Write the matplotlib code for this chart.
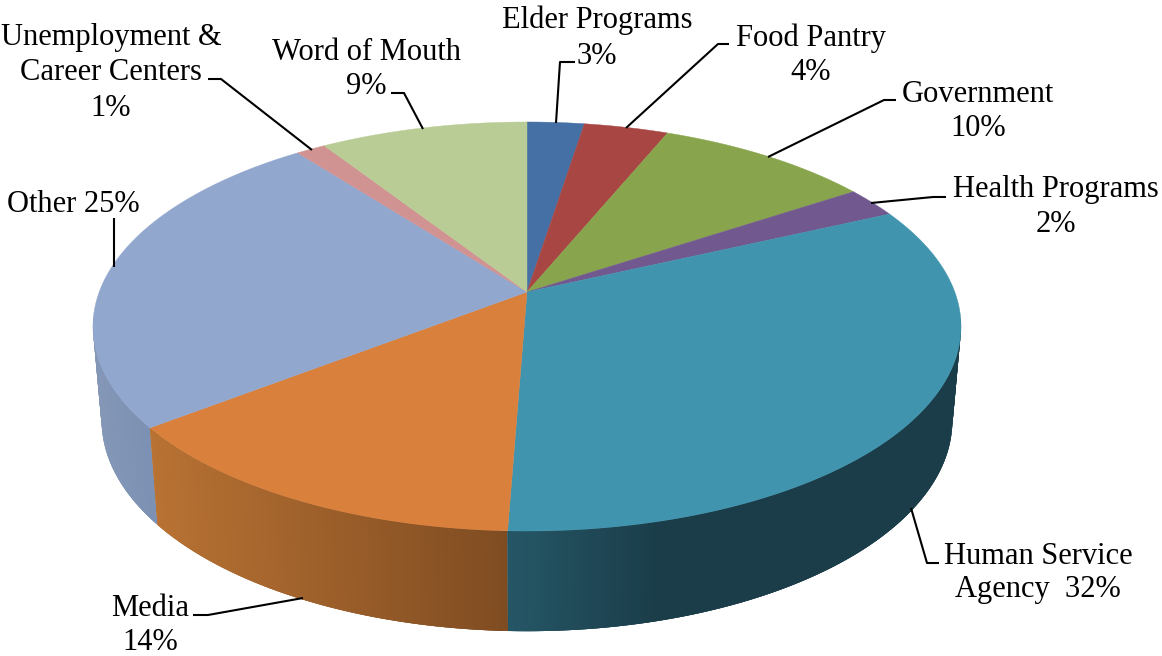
import numpy as np
import matplotlib
matplotlib.use("Agg")
import matplotlib.pyplot as plt

categories = ["Elder Programs", "Food Pantry", "Government", "Health Programs",
              "Human Service Agency", "Media", "Other",
              "Unemployment & Career Centers", "Word of Mouth"]
shares = [2.5, 3.7, 9.5, 2.4, 32.5, 13.9, 25.1, 1.3, 9.1]
top_colors = ["#4470A5", "#A84644", "#88A44C", "#71588F", "#4094AD",
              "#D8803C", "#92A7CE", "#D19392", "#B9CC95"]
# wall shading: colour stops along the horizontal position
wall_stops = {4: ([509, 650, 960], ["#255665", "#1B3D4A", "#1B3D4A"]),
              5: ([150, 510], ["#B87233", "#7E4B21"]),
              6: ([95, 160], ["#8497B7", "#7A8FB2"])}

# projection of the pie disc
CX, CY, A, B, P = 527.0, 292.0, 427.8, 198.7, -0.1687
S_X, S_Y, Y_LOW = 0.98, 1.03, 385.0
WALL_FROM, WALL_TO = np.radians(97), np.radians(263)


def top_rim(theta):
    u, v = np.sin(theta), -np.cos(theta)
    w = 1 + P * v
    return CX + A * u / w, CY + B * v / w


def low_rim(theta):
    u, v = np.sin(theta), -np.cos(theta)
    w = 1 + P * v
    return CX + S_X * A * u / w, Y_LOW + S_Y * B * v / w


def mix(c1, c2, t):
    a, b = np.array(matplotlib.colors.to_rgb(c1)), np.array(matplotlib.colors.to_rgb(c2))
    return tuple(a + (b - a) * t)


def shade(stops, x):
    xs, cs = stops
    x = min(max(x, xs[0]), xs[-1])
    i = min(np.searchsorted(xs, x, side="right") - 1, len(xs) - 2)
    return mix(cs[i], cs[i + 1], (x - xs[i]) / (xs[i + 1] - xs[i]))


fig = plt.figure(figsize=(11.62, 6.56), dpi=100, facecolor="white")
ax = fig.add_axes([0, 0, 1, 1])
ax.set_xlim(0, 1162)
ax.set_ylim(656, 0)
ax.axis("off")

edges = np.concatenate([[0], np.cumsum(shares)]) / np.sum(shares) * 2 * np.pi

# side walls: each strip overlaps the next, so no seams show
for i, stops in wall_stops.items():
    lo, hi = max(edges[i], WALL_FROM), min(edges[i + 1], WALL_TO)
    grid = np.linspace(lo, hi, 140)
    for k in range(len(grid) - 1):
        t = np.linspace(grid[k], grid[min(k + 3, len(grid) - 1)], 4)
        x0, y0 = top_rim(t)
        x1, y1 = low_rim(t[::-1])
        c = shade(stops, float(np.mean(x0)))
        ax.fill(np.r_[x0, x1], np.r_[y0, y1], color=c, lw=0, zorder=1 + k * 1e-4)

# top face
for i, color in enumerate(top_colors):
    grid = np.linspace(edges[i], edges[i + 1], 120)
    xs, ys = top_rim(grid)
    ax.fill(np.r_[CX, xs], np.r_[CY, ys], color=color, lw=0.3, zorder=2)

# leader lines
leaders = [
    [(208, 79), (221, 79), (312, 150)],
    [(391, 93), (404, 93), (423, 129)],
    [(114, 218), (114, 267)],
    [(575, 62), (560, 62), (556, 123)],
    [(729, 44), (718, 44), (626, 128)],
    [(896, 100), (884, 100), (768, 157)],
    [(946, 197), (933, 197), (871, 203)],
    [(193, 615), (208, 615), (303, 598)],
    [(911, 508), (927, 563), (939, 563)],
]
for pts in leaders:
    px, py = zip(*pts)
    ax.plot(px, py, color="black", lw=1.5, zorder=3, solid_capstyle="butt")

labels = [
    ("Unemployment &", 111, 38), ("Career Centers", 111, 73), ("1%", 111, 108),
    ("Word of Mouth", 366, 52), ("9%", 366, 87),
    ("Elder Programs", 597, 20), ("3%", 597, 56),
    ("Food Pantry", 811, 38), ("4%", 811, 73),
    ("Government", 978, 94), ("10%", 978, 128),
    ("Health Programs", 1056, 190), ("2%", 1056, 225),
    ("Other 25%", 73, 205),
    ("Media", 150, 608), ("14%", 150, 643),
    ("Human Service", 1038, 556), ("Agency  32%", 1038, 590),
]
for text, x, y in labels:
    ax.text(x, y, text, family="Liberation Serif", fontsize=22, color="black",
            ha="center", va="center", zorder=4)

fig.savefig("out.png", dpi=100)
